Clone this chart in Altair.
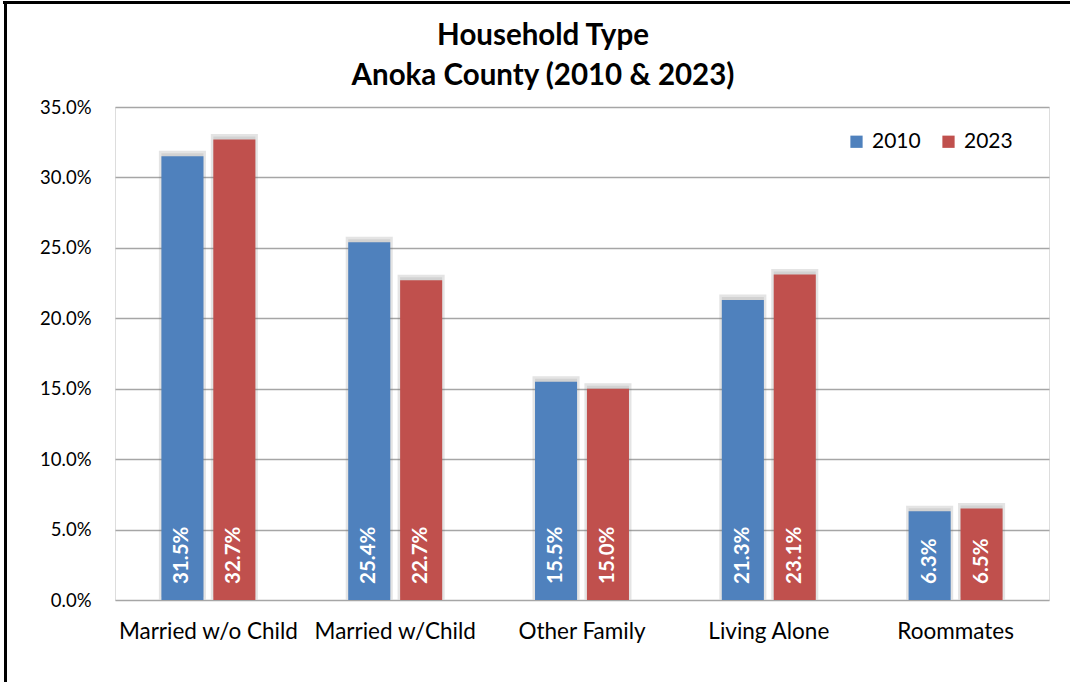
import altair as alt
import pandas as pd

categories = ["Married w/o Child", "Married w/Child", "Other Family", "Living Alone", "Roommates"]
years = ["2010", "2023"]
values_2010 = [0.315, 0.254, 0.155, 0.213, 0.063]
values_2023 = [0.327, 0.227, 0.150, 0.231, 0.065]
y_ticks = [0.0, 0.05, 0.10, 0.15, 0.20, 0.25, 0.30, 0.35]

rows = []
for c, a, b in zip(categories, values_2010, values_2023):
    rows.append({"cat": c, "year": "2010", "val": a})
    rows.append({"cat": c, "year": "2023", "val": b})
df = pd.DataFrame(rows)

FONT = "Lato"

x_enc = alt.X("cat:N", sort=categories, title=None,
              scale=alt.Scale(paddingInner=0.497, paddingOuter=0.2485),
              axis=alt.Axis(labelAngle=0, labelFontSize=22.5, labelPadding=20, ticks=False,
                            domain=False, labelColor="#000000", labelFont=FONT))
xo_enc = alt.XOffset("year:N", scale=alt.Scale(paddingInner=0.19))
y_enc = alt.Y("val:Q", title=None,
              scale=alt.Scale(domain=[0, 0.35], nice=False),
              axis=alt.Axis(values=y_ticks, format=".1%", labelFontSize=18.5, labelPadding=24,
                            ticks=False, domain=False, gridColor="#A6A6A6", gridWidth=1.3,
                            labelColor="#000000", labelFont=FONT))
color_enc = alt.Color("year:N", scale=alt.Scale(domain=years, range=["#4F81BD", "#C0504D"]),
                      legend=alt.Legend(title=None, orient="none", legendX=731, legendY=24,
                                        direction="horizontal", symbolType="square", symbolSize=150,
                                        symbolStrokeWidth=0, labelFontSize=21, labelFont=FONT,
                                        labelOffset=5, columnPadding=17, labelColor="#000000"))

base = alt.Chart(df)

shadow = base.mark_bar(color="#6E6E6E", opacity=0.3, yOffset=-3, stroke="#6E6E6E",
                       strokeWidth=5, strokeOpacity=0.6).encode(
    x=x_enc, xOffset=xo_enc, y=y_enc)

bars = base.mark_bar().encode(x=x_enc, xOffset=xo_enc, y=y_enc, color=color_enc)

labels = base.mark_text(angle=270, align="left", baseline="middle", dx=16, color="white",
                        fontSize=20.5, fontWeight="bold", font=FONT).encode(
    x=x_enc, xOffset=xo_enc, y=alt.datum(0), text=alt.Text("val:Q", format=".1%"))

frame_top = alt.Chart(df).mark_rule(color="#000000", strokeWidth=2.5).encode(
    x=alt.value(-112), x2=alt.value(960), y=alt.value(-104.5))
frame_left = alt.Chart(df).mark_rule(color="#000000", strokeWidth=2.5).encode(
    x=alt.value(-109.5), y=alt.value(-106), y2=alt.value(580))

chart = alt.layer(shadow, bars, labels, frame_top, frame_left).properties(
    width=934, height=493,
    title=alt.Title(["Household Type", "Anoka County (2010 & 2023)"], fontSize=29.5,
                    font=FONT, fontWeight="bold", lineHeight=40, offset=-92, dx=-39,
                    color="#000000"),
    autosize=alt.AutoSizeParams(type="none"),
    padding={"left": 115, "top": 107, "right": 21, "bottom": 82},
).configure_view(fill="#F2F2F2", stroke="#A6A6A6", strokeWidth=2.5).configure(
    background="white")

chart.save("out.html", embed_options={"renderer": "svg", "actions": False})
